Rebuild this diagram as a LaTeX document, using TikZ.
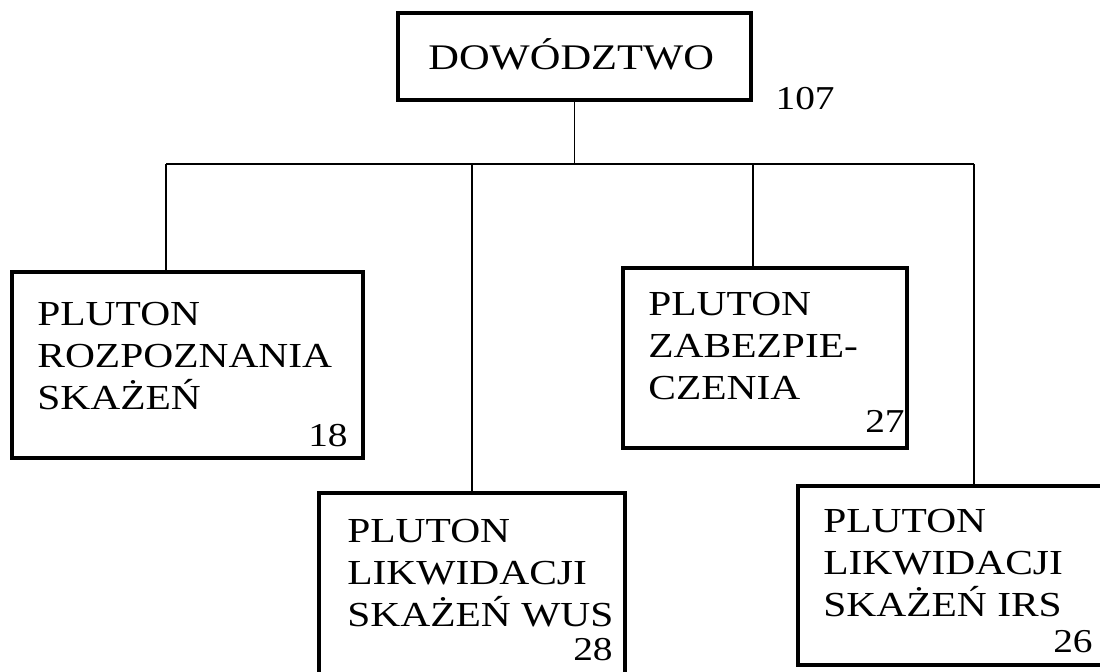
\documentclass[tikz,border=0pt]{standalone}
\usepackage{fontspec}
\setmainfont{Liberation Serif}[FakeStretch=1.18]
\usepackage{tikz}

\begin{document}
\begin{tikzpicture}[x=0.02cm,y=-0.02cm,
    unitbox/.style={draw,line width=2pt,inner sep=0pt},
    unittext/.style={anchor=north west,inner sep=0pt,align=left,
      font=\fontsize{20}{23.8}\selectfont},
    unitnum/.style={anchor=base east,inner sep=0pt,font=\fontsize{19}{22}\selectfont},
    link/.style={line width=0.85pt}]
    \useasboundingbox (0,0) rectangle (1100,672);
    % dowodztwo
    \node[unitbox,minimum width=7.06cm,minimum height=1.74cm] (cmd) at (574.5,56.5) {};
    \node[anchor=base west,inner sep=0pt,font=\fontsize{20.5}{24}\selectfont] (cmdtext) at (428,70) {DOWÓDZTWO};
    \node[anchor=base east,inner sep=0pt,font=\fontsize{19}{22}\selectfont] (cmdnum) at (835,110) {107};
    % plutony
    \node[unitbox,minimum width=7.02cm,minimum height=3.72cm] (rozp) at (187.5,365) {};
    \node[unittext] (rozptext) at (37,302) {PLUTON\\ROZPOZNANIA\\SKAŻEŃ};
    \node[unitnum] (rozpnum) at (348,447) {18};
    \node[unitbox,minimum width=5.68cm,minimum height=3.6cm] (zab) at (765,358) {};
    \node[unittext] (zabtext) at (648,292) {PLUTON\\ZABEZPIE-\\CZENIA};
    \node[unitnum] (zabnum) at (905,433) {27};
    \node[unitbox,minimum width=6.12cm,minimum height=3.94cm] (wus) at (472,591.5) {};
    \node[unittext] (wustext) at (347,519) {PLUTON\\LIKWIDACJI\\SKAŻEŃ WUS};
    \node[unitnum] (wusnum) at (613,660) {28};
    \node[unitbox,minimum width=6.24cm,minimum height=3.58cm] (irs) at (954,575.5) {};
    \node[unittext] (irstext) at (823,509) {PLUTON\\LIKWIDACJI\\SKAŻEŃ IRS};
    \node[unitnum] (irsnum) at (1093,652) {26};
    % linie
    \coordinate (busL) at (166,164);
    \coordinate (busW) at (472,164);
    \coordinate (busZ) at (753,164);
    \coordinate (busR) at (974,164);
    \draw[link] (cmd.south) -- (cmd.south |- busL);
    \draw[link] (busL) -- (busR);
    \draw[link] (busL) -- (busL |- rozp.north);
    \draw[link] (busW) -- (wus.north);
    \draw[link] (busZ) -- (busZ |- zab.north);
    \draw[link] (busR) -- (busR |- irs.north);
\end{tikzpicture}
\end{document}
